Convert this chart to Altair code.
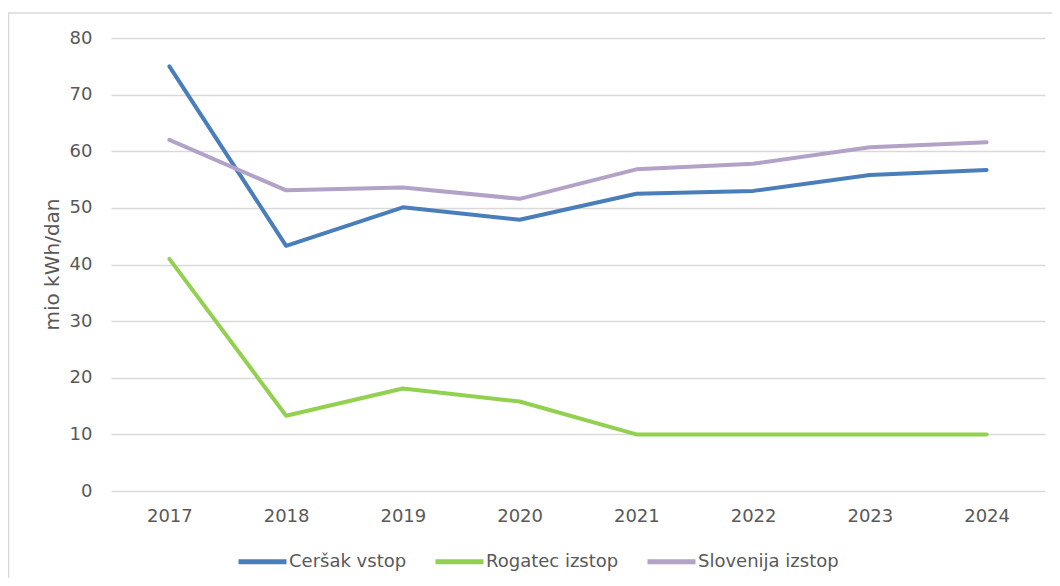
import altair as alt
import pandas as pd

years = ["2017", "2018", "2019", "2020", "2021", "2022", "2023", "2024"]
series_names = ["Ceršak vstop", "Rogatec izstop", "Slovenija izstop"]
cersak = [75.0, 43.3, 50.1, 47.9, 52.5, 53.0, 55.8, 56.7]
rogatec = [41.0, 13.3, 18.1, 15.8, 10.0, 10.0, 10.0, 10.0]
slovenija = [62.0, 53.1, 53.6, 51.6, 56.8, 57.8, 60.7, 61.6]
y_ticks = [0, 10, 20, 30, 40, 50, 60, 70, 80]
colors = ["#4A7EBB", "#92D050", "#B3A2C7"]

rows = []
for name, vals in zip(series_names, [cersak, rogatec, slovenija]):
    for yr, v in zip(years, vals):
        rows.append({"leto": yr, "serija": name, "vrednost": v})
df = pd.DataFrame(rows)

FONT = "DejaVu Sans"
TXT = "#595959"

lines = alt.Chart(df).mark_line(strokeWidth=4, strokeCap="round", strokeJoin="round").encode(
    x=alt.X("leto:O", sort=years,
            scale=alt.Scale(type="point", padding=0.5),
            axis=alt.Axis(title=None, labelAngle=0, grid=False, domain=False, ticks=False,
                          labelFontSize=18, labelFont=FONT, labelColor=TXT, labelPadding=16)),
    y=alt.Y("vrednost:Q",
            scale=alt.Scale(domain=[0, 80], nice=False, zero=True),
            axis=alt.Axis(values=y_ticks, title="mio kWh/dan", grid=True, gridColor="#D9D9D9",
                          gridWidth=1.3, domain=False, ticks=False,
                          labelFontSize=18, labelFont=FONT, labelColor=TXT, labelPadding=19,
                          titleFontSize=20, titleFont=FONT, titleColor=TXT, titleFontWeight="normal",
                          titleAngle=-90, titleX=-59, titleY=226, titleAlign="center",
                          titleBaseline="middle")),
    color=alt.Color("serija:N",
                    scale=alt.Scale(domain=series_names, range=colors),
                    legend=alt.Legend(title=None, orient="none", legendX=125, legendY=497,
                                      direction="horizontal", symbolType="stroke",
                                      symbolSize=2304, symbolStrokeWidth=5,
                                      labelFontSize=18, labelFont=FONT, labelColor=TXT,
                                      labelOffset=0, columnPadding=18)),
)

frame = alt.Chart(pd.DataFrame({"a": [0]})).mark_rect(
    fill=None, stroke="#D9D9D9", strokeWidth=1.5, clip=False
).encode(
    x=alt.value(-102.5), x2=alt.value(1000), y=alt.value(-25), y2=alt.value(600)
)

chart = alt.layer(frame, lines).properties(
    width=934, height=453,
    background="white",
    padding={"left": 103, "top": 30, "right": 7, "bottom": 87},
    autosize=alt.AutoSizeParams(type="none"),
).configure_view(stroke=None)

chart.save("out.html", embed_options={"renderer": "svg", "actions": False})
